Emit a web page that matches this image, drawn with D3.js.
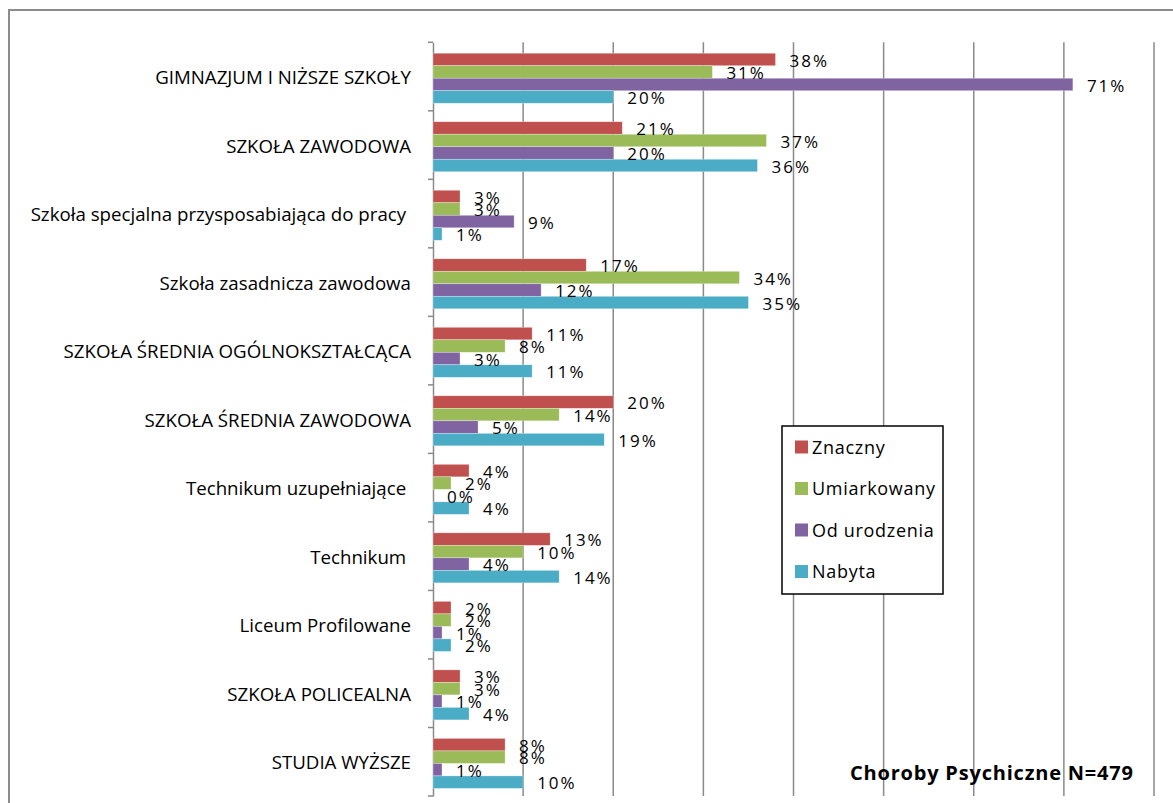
<!DOCTYPE html>
<html>
<head>
<meta charset="utf-8">
<script src="https://cdn.jsdelivr.net/npm/d3@7"></script>
<style>
  html, body { margin: 0; padding: 0; background: #fff; }
  svg { display: block; }
  text { font-family: "Open Sans", Lato, sans-serif; fill: #000; }
</style>
</head>
<body>
<svg id="chart" width="1173" height="803"></svg>
<script>
const categories = [
  "GIMNAZJUM I NIŻSZE SZKOŁY",
  "SZKOŁA ZAWODOWA",
  "Szkoła specjalna przysposabiająca do pracy ",
  "Szkoła zasadnicza zawodowa",
  "SZKOŁA ŚREDNIA OGÓLNOKSZTAŁCĄCA",
  "SZKOŁA ŚREDNIA ZAWODOWA",
  "Technikum uzupełniające ",
  "Technikum ",
  "Liceum Profilowane",
  "SZKOŁA POLICEALNA",
  "STUDIA WYŻSZE"
];
const seriesNames = ["Znaczny", "Umiarkowany", "Od urodzenia", "Nabyta"];
const znaczny     = [38, 21, 3, 17, 11, 20, 4, 13, 2, 3, 8];
const umiarkowany = [31, 37, 3, 34, 8, 14, 2, 10, 2, 3, 8];
const odUrodzenia = [71, 20, 9, 12, 3, 5, 0, 4, 1, 1, 1];
const nabyta      = [20, 36, 1, 35, 11, 19, 4, 14, 2, 4, 10];
const xTicks = [0, 10, 20, 30, 40, 50, 60, 70, 80];
const title = "Choroby Psychiczne N=479";

const seriesValues = [znaczny, umiarkowany, odUrodzenia, nabyta];
const colors = ["#C0504D", "#9BBB59", "#8064A2", "#4BACC6"];

const svg = d3.select("#chart");

// outer frame
svg.append("rect")
  .attr("x", 9).attr("y", 10).attr("width", 1200).attr("height", 820)
  .attr("fill", "none").attr("stroke", "#8c8c8c").attr("stroke-width", 2);

const x = d3.scaleLinear().domain([0, 80]).range([433, 1154]);
const y0 = d3.scaleBand().domain(categories).range([42.3, 796]).padding(0);
const y1 = d3.scaleBand().domain(seriesNames).range([0, y0.bandwidth()])
  .paddingInner(0).paddingOuter(0.74).align(0.59);

const gridColor = "#8a8a8a";

// vertical gridlines
svg.append("g").selectAll("line")
  .data(xTicks.slice(1))
  .join("line")
  .attr("x1", d => x(d)).attr("x2", d => x(d))
  .attr("y1", 42.3).attr("y2", 796)
  .attr("stroke", gridColor).attr("stroke-width", 1.5);

// category axis line
const axis = d3.axisLeft(y0).tickSize(0).tickSizeOuter(0).tickFormat("");
const gAxis = svg.append("g").attr("transform", `translate(${x(0)},0)`).call(axis);
gAxis.select(".domain").attr("stroke", gridColor).attr("stroke-width", 1.5);
gAxis.selectAll(".tick").remove();
// tick marks at band boundaries
const bounds = categories.map(c => y0(c)).concat([y0.range()[1]]);
svg.append("g").selectAll("line")
  .data(bounds)
  .join("line")
  .attr("x1", x(0) - 5).attr("x2", x(0))
  .attr("y1", d => d).attr("y2", d => d)
  .attr("stroke", gridColor).attr("stroke-width", 1.5);

// category labels
svg.append("g").selectAll("text")
  .data(categories)
  .join("text")
  .attr("x", 411)
  .attr("y", d => y0(d) + y0.bandwidth() / 2 + 2.5)
  .attr("text-anchor", "end")
  .attr("dominant-baseline", "middle")
  .style("white-space", "pre")
  .style("font-size", "18.7px")
  .text(d => d);

// bars
const rows = [];
categories.forEach((c, i) => {
  seriesNames.forEach((s, j) => rows.push({ c, s, j, v: seriesValues[j][i] }));
});

svg.append("g").selectAll("rect")
  .data(rows)
  .join("rect")
  .attr("x", x(0))
  .attr("y", d => y0(d.c) + y1(d.s))
  .attr("width", d => x(d.v) - x(0))
  .attr("height", y1.bandwidth())
  .attr("fill", d => colors[d.j])
  .attr("stroke", "#ffffff").attr("stroke-opacity", 0.5).attr("stroke-width", 0.6);

// data labels
svg.append("g").selectAll("text")
  .data(rows)
  .join("text")
  .attr("x", d => x(d.v) + 14)
  .attr("y", d => y0(d.c) + y1(d.s) + y1.bandwidth() / 2 + 2.5)
  .attr("dominant-baseline", "middle")
  .style("font-size", "17px")
  .style("letter-spacing", "2px")
  .text(d => d.v + "%");

// legend
const lg = svg.append("g");
lg.append("rect")
  .attr("x", 782).attr("y", 426).attr("width", 161).attr("height", 168)
  .attr("fill", "#fff").attr("stroke", "#000").attr("stroke-width", 1.5);
const legItems = lg.selectAll("g.item")
  .data(seriesNames)
  .join("g").attr("class", "item")
  .attr("transform", (d, i) => `translate(795, ${447 + i * 41.5})`);
legItems.append("rect")
  .attr("x", 0).attr("y", -6.5).attr("width", 13).attr("height", 13)
  .attr("fill", (d, i) => colors[i]);
legItems.append("text")
  .attr("x", 17).attr("y", 2)
  .attr("dominant-baseline", "middle")
  .style("font-size", "18px")
  .style("letter-spacing", "0.7px")
  .text(d => d);

// title
svg.append("text")
  .attr("x", 850).attr("y", 775)
  .attr("dominant-baseline", "middle")
  .style("font-size", "20px")
  .style("font-weight", "bold")
  .style("letter-spacing", "0.8px")
  .text(title);
</script>
</body>
</html>
